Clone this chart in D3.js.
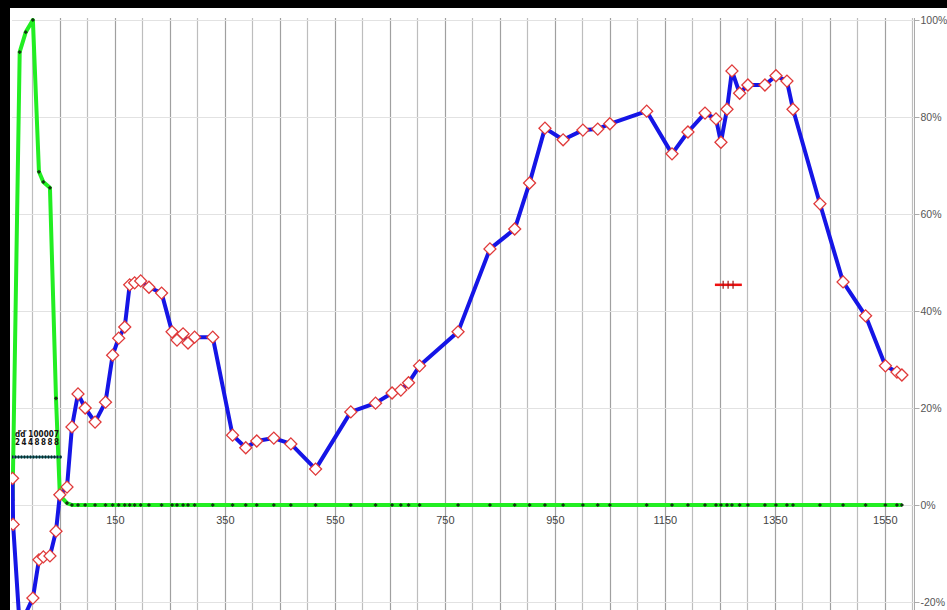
<!DOCTYPE html>
<html>
<head>
<meta charset="utf-8">
<script src="https://cdn.jsdelivr.net/npm/d3@7"></script>
<style>
  html, body { margin: 0; padding: 0; background: #fff; }
  svg { display: block; }
</style>
</head>
<body>
<svg id="chart" width="947" height="610"></svg>
<script>
// ---- data ----
const xValues = [-36, -35, -23, -12, 1, 12, 20, 32, 43, 50, 63, 72, 83, 96, 114, 133, 146, 157, 168, 177, 186, 197, 212, 235, 254, 263, 274, 283, 295, 328, 364, 388, 408, 439, 470, 515, 579, 624, 654, 670, 684, 704, 774, 832, 877, 904, 932, 965, 1001, 1028, 1050, 1117, 1163, 1192, 1223, 1243, 1252, 1263, 1272, 1286, 1301, 1332, 1352, 1372, 1383, 1432, 1474, 1515, 1551, 1572, 1581];
const blueSeries = [5.5, -4.0, -25, null, -19.2, -11.3, -10.7, -10.5, -5.4, 2.1, 3.7, 16.1, 22.9, 20.0, 17.1, 21.2, 30.9, 34.4, 36.7, 45.4, 45.8, 46.2, 44.9, 43.7, 35.7, 34.0, 35.3, 33.4, 34.6, 34.6, 14.4, 11.8, 13.2, 13.8, 12.6, 7.4, 19.2, 21.0, 23.1, 23.7, 25.2, 28.7, 35.7, 52.8, 56.9, 66.4, 77.7, 75.3, 77.3, 77.5, 78.6, 81.2, 72.4, 76.9, 80.8, 79.6, 74.8, 81.6, 89.5, 84.9, 86.6, 86.6, 88.5, 87.4, 81.6, 62.1, 46.0, 39.0, 28.7, 27.4, 26.8];
const greenSeries = [1.0, null, 93.4, 97.5, 100, 68.7, 66.6, 65.4, 22.0, 2.0, 0.4, 0, 0, 0, 0, 0, 0, 0, 0, 0, 0, 0, 0, 0, 0, 0, 0, 0, 0, 0, 0, 0, 0, 0, 0, 0, 0, 0, 0, 0, 0, 0, 0, 0, 0, 0, 0, 0, 0, 0, 0, 0, 0, 0, 0, 0, 0, 0, 0, 0, 0, 0, 0, 0, 0, 0, 0, 0, 0, 0, 0];
const redX = [1241, 1256, 1265, 1274, 1290];
const redY = [45.4, 45.4, 45.4, 45.4, 45.4];
const xTickLabels = [150, 350, 550, 750, 950, 1150, 1350, 1550];
const yTickLabels = [100, 80, 60, 40, 20, 0, -20];
const legendLines = ["ďď 100007", "2448888"];

// ---- scales ----
const svg = d3.select("#chart");
const x = d3.scaleLinear().domain([-37, 1603]).range([12, 914]);
const y = d3.scaleLinear().domain([-20, 100]).range([602, 20]);

const plotTop = 18, plotBottom = 610;

svg.append("defs").append("clipPath").attr("id", "clip")
  .append("rect").attr("x", 11).attr("y", plotTop).attr("width", 914 - 11).attr("height", plotBottom - plotTop);

// vertical gridlines (every 50 units)
const vGrid = d3.range(0, 1601, 50);
svg.append("g").selectAll("line").data(vGrid).join("line")
  .attr("x1", d => Math.round(x(d)) + 0.5).attr("x2", d => Math.round(x(d)) + 0.5)
  .attr("y1", plotTop).attr("y2", plotBottom)
  .attr("stroke", d => (d % 100 === 50) ? "#a0a0a0" : "#bdbdbd").attr("stroke-width", 1.2);

// horizontal gridlines
svg.append("g").selectAll("line").data(yTickLabels).join("line")
  .attr("x1", 12).attr("x2", 914)
  .attr("y1", d => Math.round(y(d)) + 0.5).attr("y2", d => Math.round(y(d)) + 0.5)
  .attr("stroke", "#e2e2e2").attr("stroke-width", 1);

// right axis
const yAxis = d3.axisRight(y).tickValues(yTickLabels).tickSize(5).tickFormat(d => d + "%");
const ya = svg.append("g").attr("transform", "translate(914.5,0)").call(yAxis);
ya.select(".domain").attr("stroke", "#aaa").attr("d", `M0,${plotTop}V${plotBottom}`);
ya.selectAll(".tick line").attr("stroke", "#aaa");
ya.selectAll(".tick text").attr("x", 6).attr("fill", "#555")
  .style("font-family", "Liberation Sans, Arial, sans-serif").style("font-size", "10.5px");

// x labels (inside plot, below zero line)
const xAxis = d3.axisBottom(x).tickValues(xTickLabels).tickSize(0).tickPadding(11).tickFormat(d3.format("d"));
const xa = svg.append("g").attr("transform", `translate(0,${y(0)})`).call(xAxis);
xa.select(".domain").remove();
xa.selectAll(".tick text").attr("fill", "#444")
  .style("font-family", "Liberation Sans, Arial, sans-serif").style("font-size", "11px");

const g = svg.append("g").attr("clip-path", "url(#clip)");
const line = d3.line().x(d => x(d.x)).y(d => y(d.y));

// green series
const greenPts = xValues.map((xv, i) => ({ x: xv, y: greenSeries[i] })).filter(d => d.y !== null);
g.append("path").datum(greenPts).attr("d", line)
  .attr("fill", "none").attr("stroke", "#22ee22").attr("stroke-width", 4).attr("stroke-linejoin", "round");
const sqSmall = d3.symbol().type(d3.symbolSquare).size(9);
g.append("g").selectAll("path").data(greenPts).join("path")
  .attr("transform", d => `translate(${x(d.x)},${y(d.y)}) rotate(45)`)
  .attr("d", sqSmall).attr("fill", "#123812");

// blue series
const bluePts = xValues.map((xv, i) => ({ x: xv, y: blueSeries[i] })).filter(d => d.y !== null);
g.append("path").datum(bluePts).attr("d", line)
  .attr("fill", "none").attr("stroke", "#1515e6").attr("stroke-width", 4).attr("stroke-linejoin", "round");
const sqBig = d3.symbol().type(d3.symbolSquare).size(72);
g.append("g").selectAll("path").data(bluePts).join("path")
  .attr("transform", d => `translate(${x(d.x)},${y(d.y)}) rotate(45)`)
  .attr("d", sqBig).attr("fill", "#fff").attr("stroke", "#e03a3a").attr("stroke-width", 1.3);

// red marker series
const redPts = redX.map((xv, i) => ({ x: xv, y: redY[i] }));
g.append("path").datum(redPts).attr("d", line)
  .attr("fill", "none").attr("stroke", "#ee1111").attr("stroke-width", 2.5);
g.append("g").selectAll("line").data(redPts.slice(1, -1)).join("line")
  .attr("x1", d => x(d.x)).attr("x2", d => x(d.x))
  .attr("y1", d => y(d.y) - 4).attr("y2", d => y(d.y) + 4)
  .attr("stroke", "#991111").attr("stroke-width", 1.2);

// small legend-ish block at left
const lg = svg.append("g");
lg.selectAll("text").data(legendLines).join("text")
  .attr("x", 15).attr("y", (d, i) => 437 + i * 8)
  .attr("fill", "#111").style("font-family", "DejaVu Sans Condensed, sans-serif")
  .style("font-size", "8px").style("font-weight", "bold").attr("textLength", 44)
  .text(d => d);
lg.append("line").attr("x1", 12).attr("x2", 62).attr("y1", 457).attr("y2", 457)
  .attr("stroke", "#1f5f66").attr("stroke-width", 2.5);
lg.append("line").attr("x1", 12).attr("x2", 62).attr("y1", 457).attr("y2", 457)
  .attr("stroke", "#0a2a2a").attr("stroke-width", 3).attr("stroke-dasharray", "1 2");

// black border (top & left)
svg.append("rect").attr("x", 0).attr("y", 0).attr("width", 947).attr("height", 8).attr("fill", "#000");
svg.append("rect").attr("x", 0).attr("y", 0).attr("width", 10).attr("height", 610).attr("fill", "#000");
</script>
</body>
</html>
